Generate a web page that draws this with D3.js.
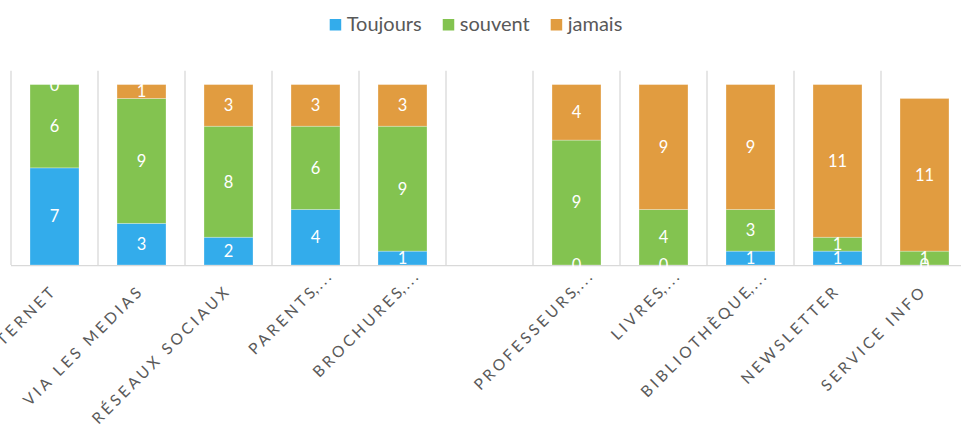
<!DOCTYPE html>
<html>
<head>
<meta charset="utf-8">
<script src="https://cdn.jsdelivr.net/npm/d3@7"></script>
<style>
  html, body { margin: 0; padding: 0; background: #fff; overflow: hidden; }
  svg { display: block; font-family: Lato, "Open Sans", sans-serif; }
</style>
</head>
<body>
<svg id="chart" width="961" height="433"></svg>
<script>
// Sources of information, how often each one is used
const categories = ["VIA INTERNET", "VIA LES MEDIAS", "RÉSEAUX SOCIAUX", "PARENTS,...", "BROCHURES,...", "",
                    "PROFESSEURS,...", "LIVRES,...", "BIBLIOTHÈQUE,...", "NEWSLETTER", "SERVICE INFO"];
const seriesNames = ["Toujours", "souvent", "jamais"];
const toujours = [7, 3, 2, 4, 1, null, 0, 0, 1, 1, 0];
const souvent  = [6, 9, 8, 6, 9, null, 9, 4, 3, 1, 1];
const jamais   = [0, 1, 3, 3, 3, null, 4, 9, 9, 11, 11];
const yMax = 14;

const colors = ["#33ACEB", "#83C350", "#E19C40"];
const seriesValues = [toujours, souvent, jamais];

const svg = d3.select("#chart");

const x = d3.scaleBand()
  .domain(d3.range(categories.length))
  .range([11, 968])
  .paddingInner(0.437)
  .paddingOuter(0.2185);

const y = d3.scaleLinear().domain([0, yMax]).range([265, 70.7]);

// table of rows for d3.stack
const rows = categories.map((c, i) => {
  const r = { idx: i, empty: toujours[i] === null };
  seriesNames.forEach((s, k) => r[s] = seriesValues[k][i] || 0);
  return r;
});
const stacked = d3.stack().keys(seriesNames)(rows);

// vertical separators between categories
const step = x.step();
const bounds = d3.range(categories.length + 1).map(i => 11 + i * step);
svg.append("g").selectAll("line").data(bounds).join("line")
  .attr("x1", d => d).attr("x2", d => d)
  .attr("y1", y(yMax)).attr("y2", y(0))
  .attr("stroke", "#d9d9d9").attr("stroke-width", 1.3);

// stacked bars
const layers = svg.append("g").selectAll("g").data(stacked).join("g")
  .attr("fill", (d, i) => colors[i]);
layers.selectAll("rect").data(d => d.filter(p => !p.data.empty)).join("rect")
  .attr("x", d => x(d.data.idx))
  .attr("width", x.bandwidth())
  .attr("y", d => y(d[1]))
  .attr("height", d => y(d[0]) - y(d[1]))
  .attr("stroke", "#ffffff").attr("stroke-opacity", 0.35).attr("stroke-width", 0.8);

// category axis line
svg.append("line")
  .attr("x1", 11).attr("x2", 968)
  .attr("y1", y(0) + 0.7).attr("y2", y(0) + 0.7)
  .attr("stroke", "#d9d9d9").attr("stroke-width", 1.3);

// value labels inside segments
const labels = svg.append("g")
  .attr("fill", "#ffffff")
  .attr("font-size", 16.5)
  .attr("text-anchor", "middle");
stacked.forEach(layer => {
  labels.selectAll(null).data(layer.filter(p => !p.data.empty)).join("text")
    .attr("x", d => x(d.data.idx) + x.bandwidth() / 2)
    .attr("y", d => y((d[0] + d[1]) / 2))
    .attr("dy", "0.36em")
    .text(d => d[1] - d[0]);
});

// rotated category labels
const ls = 3.3;
const tick = svg.append("g")
  .attr("fill", "#595959")
  .attr("font-size", 15.5)
  .attr("letter-spacing", ls);
categories.forEach((c, i) => {
  if (!c) return;
  const cut = c.indexOf(",...");
  const main = cut >= 0 ? c.slice(0, cut) : c;
  const g = tick.append("g")
    .attr("transform", `translate(${x(i) + x.bandwidth() / 2 + 1},294) rotate(-45)`);
  g.append("text").attr("text-anchor", "end").attr("x", ls).text(main);
  if (cut >= 0) g.append("text").attr("text-anchor", "start").attr("x", 0)
    .attr("letter-spacing", 2.5).text(c.slice(cut));
});

// legend
const legend = svg.append("g").attr("font-size", 20).attr("fill", "#595959");
let lx = 0;
seriesNames.forEach((s, i) => {
  const g = legend.append("g");
  g.append("rect").attr("x", 0).attr("y", 19).attr("width", 11.5).attr("height", 11.5).attr("fill", colors[i]);
  const t = g.append("text").attr("x", 17).attr("y", 30.5).text(s);
  const w = 17 + t.node().getComputedTextLength();
  g.attr("transform", `translate(${lx},0)`);
  lx += w + 21;
});
const legendWidth = lx - 21;
legend.attr("transform", `translate(${476 - legendWidth / 2},0)`);
</script>
</body>
</html>
